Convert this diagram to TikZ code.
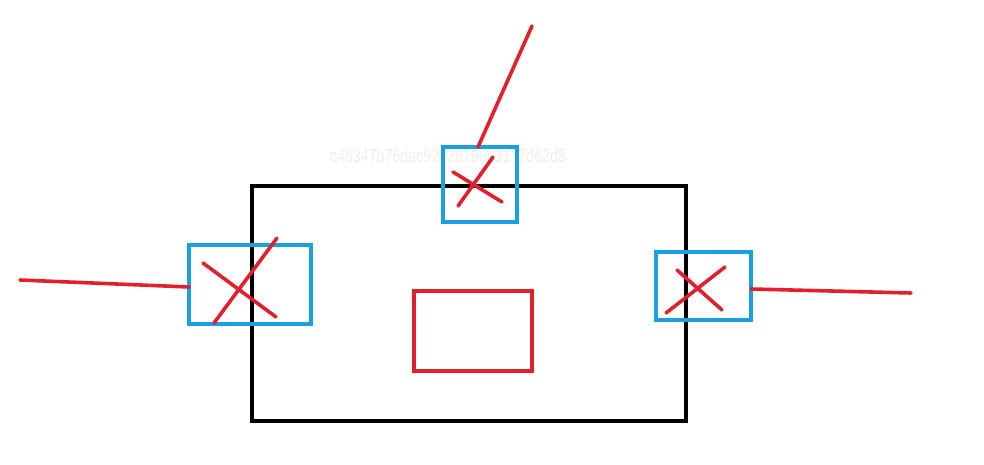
\documentclass[tikz,border=0pt]{standalone}
\usepackage{fontspec}
\setmainfont{Liberation Sans}
\definecolor{penred}{RGB}{226,32,44}
\definecolor{penblue}{RGB}{26,160,222}
\definecolor{wm}{RGB}{238,238,240}
\begin{document}
\begin{tikzpicture}[x=1pt,y=-1pt,line cap=round,
  redline/.style={draw=penred,line width=3.6pt},
  bluebox/.style={draw=penblue,line width=3.8pt,line cap=butt},
  blackbox/.style={draw=black,line width=3.8pt}]
\useasboundingbox (0,0) rectangle (984,465);
\node[wm,font=\fontsize{19}{19}\selectfont,xscale=0.75,anchor=center] (wmk) at (448,156) {c48347b76dac9242879063137d62d8};
% main rectangle
\draw[blackbox] (252,186) rectangle (686,421);
\draw[redline] (414,291) rectangle (532,371);
% top box
\draw[bluebox] (443,147) rectangle (517,222);
\draw[redline] (478,147) -- (532,26);
\draw[redline] (458,206) -- (493,157);
\draw[redline] (453,172) -- (502,202);
% left box
\draw[bluebox] (189,245) rectangle (311,324);
\draw[redline] (20,280) -- (189,287);
\draw[redline] (203,263) -- (276,317);
\draw[redline] (214,323) -- (277,238);
% right box
\draw[bluebox] (656,252) rectangle (751,320);
\draw[redline] (751,289) -- (911,293);
\draw[redline] (677,270) -- (722,310);
\draw[redline] (666,313) -- (725,267);
\end{tikzpicture}
\end{document}
